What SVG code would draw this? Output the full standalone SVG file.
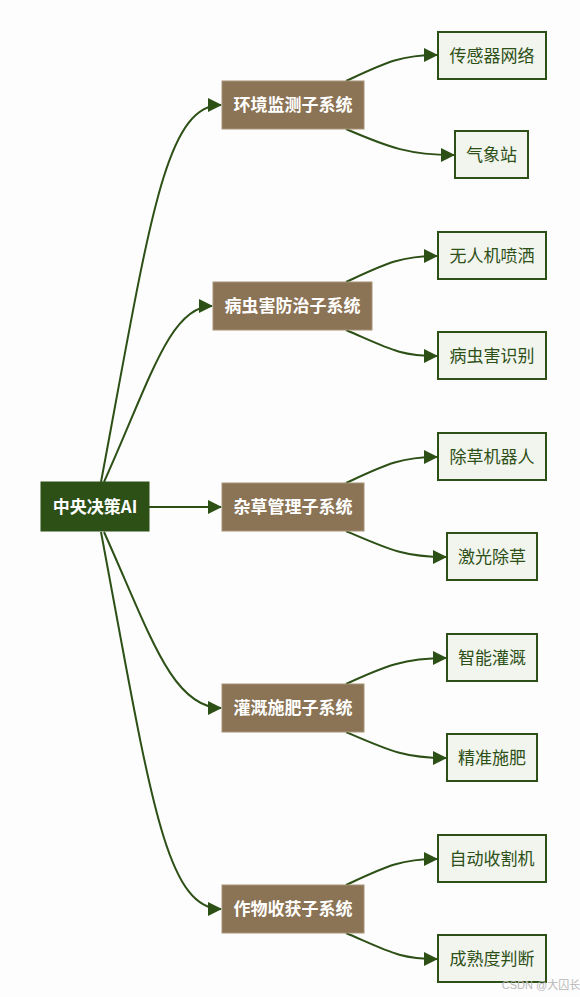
<svg xmlns="http://www.w3.org/2000/svg" width="580" height="997" viewBox="0 0 580 997">
<style>
text{font-family:"Noto Sans CJK SC","Liberation Sans",sans-serif;text-anchor:middle;dominant-baseline:central}
.root rect{fill:#2d5016;stroke:#2d5016;stroke-width:1}
.root text{fill:#ffffff;font-size:17px;font-weight:bold}
.sub rect{fill:#8b7355;stroke:#a89478;stroke-width:1}
.sub text{fill:#ffffff;font-size:17px;font-weight:bold}
.leaf rect{fill:#f2f4ee;stroke:#2d5016;stroke-width:2}
.leaf text{fill:#2d5016;font-size:17px}
.edge{fill:none;stroke:#2d5016;stroke-width:2;marker-end:url(#arr)}
.wm{fill:#b8b8b8;font-size:11px;font-family:"Liberation Sans","Noto Sans CJK SC",sans-serif}
</style>
<defs>
<marker id="arr" markerUnits="userSpaceOnUse" markerWidth="14" markerHeight="14" refX="13" refY="7" orient="auto">
<path d="M0,0 L14,7 L0,14 z" fill="#2d5016"/>
</marker>
</defs>
<rect width="580" height="997" fill="#fdfdfd"/>
<g id="connectors">
<path class="edge" d="M101,482 C150,220 165,105 221,105"/>
<path class="edge" d="M104,482 C150,380 170,306 212,306"/>
<path class="edge" d="M149,507 L221,507"/>
<path class="edge" d="M104,532 C150,634 172,708 221,708"/>
<path class="edge" d="M101,532 C150,794 165,909 221,909"/>
<path class="edge" d="M346,81 C385,63 400,55 437,55"/>
<path class="edge" d="M346,129 C390,148 410,155 454,155"/>
<path class="edge" d="M346,282 C385,264 400,256 437,256"/>
<path class="edge" d="M346,330 C390,349 400,356 437,356"/>
<path class="edge" d="M346,483 C385,465 400,457 437,457"/>
<path class="edge" d="M346,531 C390,550 405,557 446,557"/>
<path class="edge" d="M346,684 C385,666 405,658 446,658"/>
<path class="edge" d="M346,732 C390,751 405,758 446,758"/>
<path class="edge" d="M346,885 C385,867 400,859 437,859"/>
<path class="edge" d="M346,933 C390,952 400,959 437,959"/>
</g>
<g id="central" class="root"><rect x="41" y="482" width="108" height="49"/><text x="95" y="505.5">中央决策AI</text></g>
<g id="env" class="sub"><rect x="222" y="81" width="142" height="48"/><text x="293" y="103.5">环境监测子系统</text></g>
<g id="pest" class="sub"><rect x="213" y="282" width="159" height="48"/><text x="292.5" y="304.5">病虫害防治子系统</text></g>
<g id="weed" class="sub"><rect x="222" y="483" width="142" height="48"/><text x="293" y="505.5">杂草管理子系统</text></g>
<g id="irr" class="sub"><rect x="222" y="684" width="142" height="48"/><text x="293" y="706.5">灌溉施肥子系统</text></g>
<g id="harv" class="sub"><rect x="222" y="885" width="142" height="48"/><text x="293" y="907.5">作物收获子系统</text></g>
<g id="sensor" class="leaf"><rect x="438" y="32" width="108" height="47"/><text x="492" y="54">传感器网络</text></g>
<g id="weather" class="leaf"><rect x="455" y="131" width="73" height="47"/><text x="491.5" y="153">气象站</text></g>
<g id="drone" class="leaf"><rect x="438" y="232" width="108" height="47"/><text x="492" y="254">无人机喷洒</text></g>
<g id="pestid" class="leaf"><rect x="438" y="332" width="108" height="47"/><text x="492" y="354">病虫害识别</text></g>
<g id="weedbot" class="leaf"><rect x="438" y="433" width="108" height="47"/><text x="492" y="455">除草机器人</text></g>
<g id="laser" class="leaf"><rect x="447" y="533" width="90" height="47"/><text x="492" y="555">激光除草</text></g>
<g id="smartirr" class="leaf"><rect x="447" y="634" width="90" height="47"/><text x="492" y="656">智能灌溉</text></g>
<g id="fert" class="leaf"><rect x="447" y="734" width="90" height="47"/><text x="492" y="756">精准施肥</text></g>
<g id="harvester" class="leaf"><rect x="438" y="835" width="108" height="47"/><text x="492" y="857">自动收割机</text></g>
<g id="mature" class="leaf"><rect x="438" y="935" width="108" height="47"/><text x="492" y="957">成熟度判断</text></g>
<text class="wm" x="541" y="985">CSDN @大囚长</text>
</svg>
